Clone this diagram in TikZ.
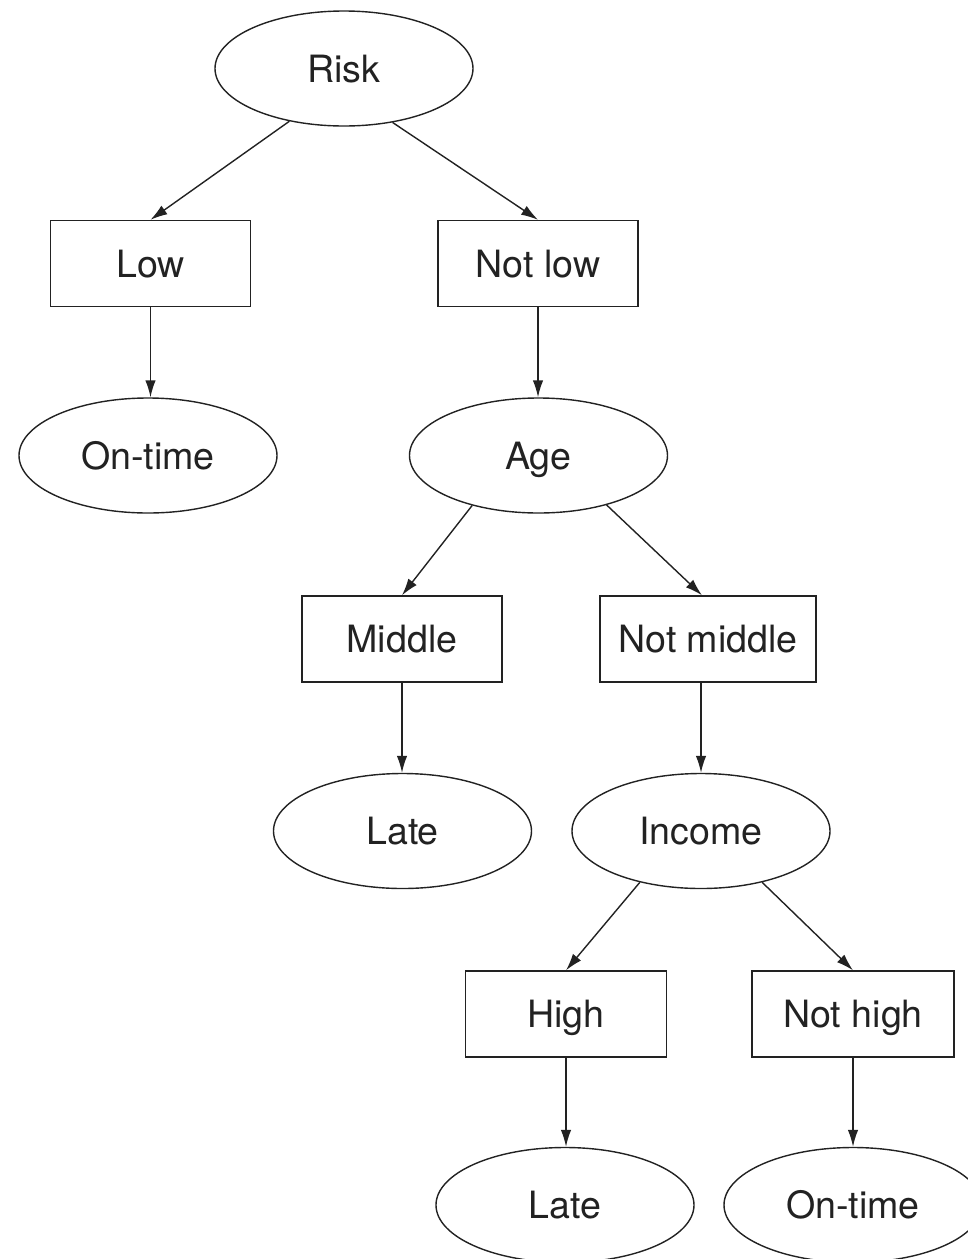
\documentclass[tikz,border=0pt]{standalone}
\usepackage{fontspec}
\setmainfont{TeX Gyre Heros}
\usetikzlibrary{arrows.meta,shapes.geometric}
\definecolor{ink}{HTML}{222222}
\begin{document}
\begin{tikzpicture}[x=1pt,y=-1pt,
  every node/.style={font=\fontsize{37.6}{45}\selectfont, text=ink, draw=ink,
    line width=1.4pt, inner sep=0pt, text height=27pt, text depth=0pt},
  testnode/.style={ellipse, minimum width=258pt, minimum height=115pt},
  branch/.style={rectangle, minimum height=86pt},
  link/.style={draw=ink, line width=1.4pt, -{Latex[length=17pt,width=10.5pt]}}]
\useasboundingbox (0,0) rectangle (968,1259);
\clip (0,0) rectangle (968,1259);

% decision tree: tests (ellipses), branch values (boxes), leaves (ellipses)
\node[testnode] (risk) at (344,68.5) {Risk};
\node[branch, minimum width=200pt] (low) at (150.5,263.5) {Low};
\node[branch, minimum width=200pt] (notlow) at (538,263.5) {Not low};
\node[testnode] (ontimeA) at (148,455.5) {On-time};
\node[testnode] (age) at (538.5,455.5) {Age};
\node[branch, minimum width=200pt] (middle) at (402,639) {Middle};
\node[branch, minimum width=216pt] (notmiddle) at (708,639) {Not middle};
\node[testnode] (lateA) at (402.5,831) {Late};
\node[testnode] (income) at (701,831) {Income};
\node[branch, minimum width=201pt] (high) at (566,1014) {High};
\node[branch, minimum width=202pt] (nothigh) at (853,1014) {Not high};
\node[testnode] (lateB) at (565,1205) {Late};
\node[testnode] (ontimeB) at (853,1205) {On-time};

% connectors
\draw[link] (risk.224) -- (low.north);
\draw[link] (risk.312) -- (notlow.north);
\draw[link] (low.south) -- (low.south |- ontimeA.north);
\draw[link] (notlow.south) -- (notlow.south |- age.north);
\draw[link] (age.217) -- (middle.north);
\draw[link] (age.324) -- ([xshift=-6pt]notmiddle.north);
\draw[link] (middle.south) -- (middle.south |- lateA.north);
\draw[link] (notmiddle.south -| income.north) -- (income.north);
\draw[link] (income.220) -- (high.north);
\draw[link] (income.320) -- (nothigh.north);
\draw[link] (high.south) -- (high.south |- lateB.north);
\draw[link] (nothigh.south) -- (nothigh.south |- ontimeB.north);
\end{tikzpicture}
\end{document}
